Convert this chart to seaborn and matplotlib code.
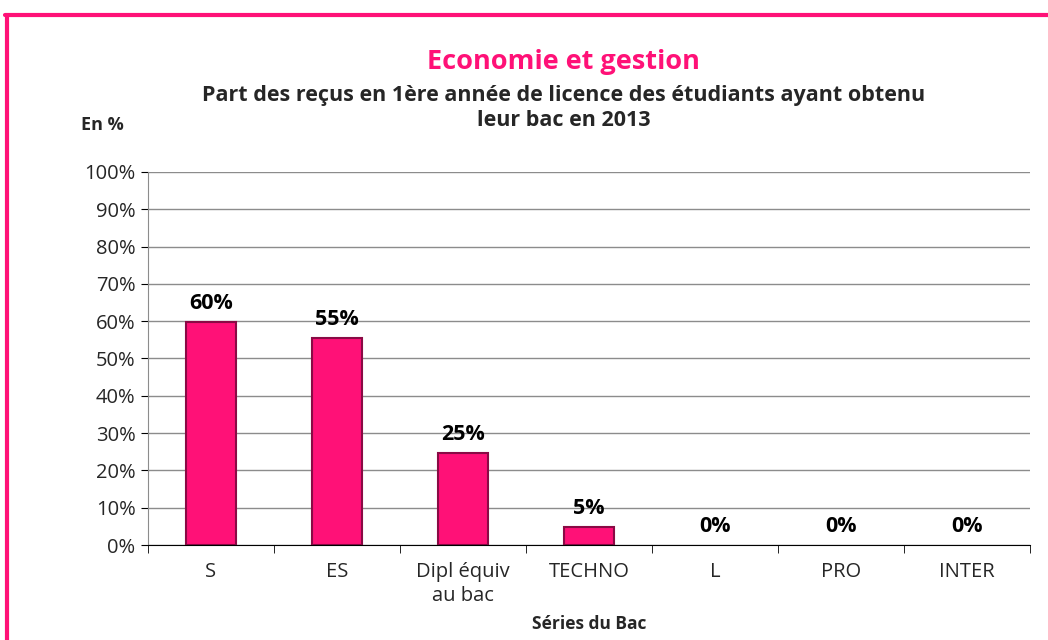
import numpy as np
import pandas as pd
import matplotlib
matplotlib.use('Agg')
import matplotlib.pyplot as plt
from matplotlib.lines import Line2D
from matplotlib.ticker import PercentFormatter, FixedLocator
import seaborn as sns

# Data
series = ['S', 'ES', 'Dipl équiv\nau bac', 'TECHNO', 'L', 'PRO', 'INTER']
values = [59.8, 55.5, 24.7, 4.8, 0, 0, 0]
labels = ['60%', '55%', '25%', '5%', '0%', '0%', '0%']

df = pd.DataFrame({'serie': series, 'part': values})

sns.set_style('white')
plt.rcParams['font.family'] = ['Open Sans', 'DejaVu Sans']

pink = '#FF1177'
fig = plt.figure(figsize=(10.48, 6.4), dpi=100)
ax = fig.add_axes([0.1412, 0.1484, 0.8416, 0.5829])

sns.barplot(data=df, x='serie', y='part', color=pink, width=0.39,
            edgecolor='#8A0A45', linewidth=1.5, saturation=1, ax=ax)

# empty bars are not drawn in the original
for patch, v in zip(ax.patches, values):
    if v == 0:
        patch.set_linewidth(0)

ax.set_ylim(0, 100)
ax.set_xlim(-0.5, len(series) - 0.5)
ax.set_yticks(np.arange(0, 101, 10))
ax.yaxis.set_major_formatter(PercentFormatter(decimals=0))
ax.yaxis.grid(True, color='#8C8C8C', linewidth=1)
ax.set_axisbelow(True)

# category boundary ticks on the x axis
ax.xaxis.set_minor_locator(FixedLocator(np.arange(-0.5, len(series), 1)))
ax.tick_params(axis='x', which='major', length=0, pad=12, labelsize=14.5)
ax.tick_params(axis='x', which='minor', length=6, color='black', direction='out')
ax.tick_params(axis='y', length=5, color='black', direction='out', labelsize=14.5, pad=4)
ax.xaxis.set_tick_params(which='minor', bottom=True)
ax.yaxis.set_tick_params(left=True)
for t in ax.get_xticklabels():
    t.set_linespacing(1.3)

for side in ['top', 'right']:
    ax.spines[side].set_visible(False)
ax.spines['left'].set_color('#8C8C8C')
ax.spines['bottom'].set_color('black')

ax.bar_label(ax.containers[0], labels=labels, padding=6,
             fontsize=15.5, fontweight='bold', color='black')

ax.set_xlabel('Séries du Bac', fontsize=12.5, fontweight='bold', labelpad=6)
ax.set_ylabel('')

# titles
fig.text(0.538, 0.903, 'Economie et gestion', ha='center', va='center',
         fontsize=19.5, fontweight='bold', color=pink)
fig.text(0.538, 0.832, "Part des reçus en 1ère année de licence des étudiants ayant obtenu\nleur bac en 2013",
         ha='center', va='center', fontsize=15.5, fontweight='bold', linespacing=1.25)
fig.text(0.077, 0.805, 'En %', fontsize=13, fontweight='bold', va='center')

# pink frame
fig.add_artist(Line2D([0.005, 1.0], [0.977, 0.977], color=pink, linewidth=3,
                      transform=fig.transFigure))
fig.add_artist(Line2D([0.007, 0.007], [0.0, 0.977], color=pink, linewidth=3,
                      transform=fig.transFigure))

fig.savefig('out.png', dpi=100)
